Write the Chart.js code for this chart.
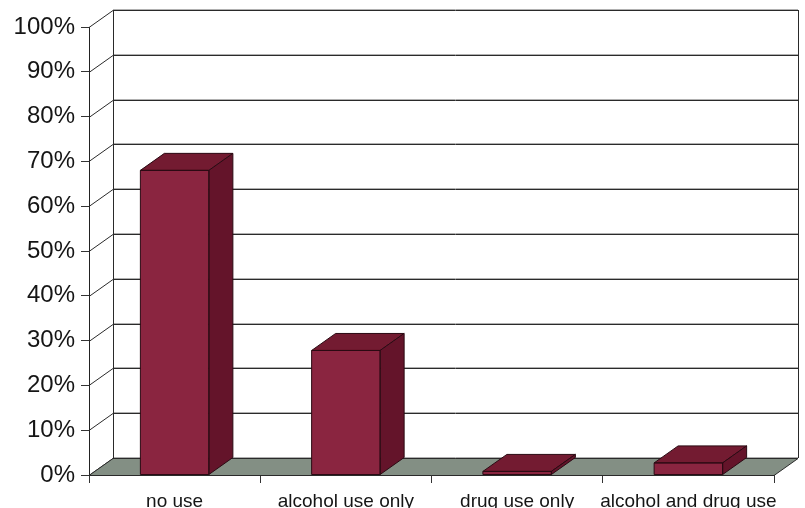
<!DOCTYPE html>
<html>
<head>
<meta charset="utf-8">
<script src="https://cdn.jsdelivr.net/npm/chart.js@4.4.0/dist/chart.umd.min.js"></script>
<style>
  body { margin: 0; background: #fff; }
  canvas { display: block; }
</style>
</head>
<body>
<canvas id="myChart" width="805" height="508"></canvas>
<script>
const categories = ['no use', 'alcohol use only', 'drug use only', 'alcohol and drug use'];
const shares = [68, 27.8, 0.8, 2.7];
const yTicks = [0, 10, 20, 30, 40, 50, 60, 70, 80, 90, 100];

// depth of the fake 3D box
const DX = 24;
const DY = -17;

const box3dPlugin = {
  id: 'box3d',
  beforeDatasetsDraw(chart) {
    const { ctx, chartArea: a } = chart;
    const y = chart.scales.y;
    ctx.save();
    ctx.lineWidth = 1;

    // grid on the back wall and lines on the left wall
    yTicks.forEach((v) => {
      const py = Math.round(y.getPixelForValue(v)) + 0.5;
      ctx.strokeStyle = '#b0b0b0';
      ctx.beginPath();
      ctx.moveTo(a.left + DX, py + DY - 1);
      ctx.lineTo(a.right + DX, py + DY - 1);
      ctx.stroke();
      ctx.strokeStyle = '#2a2a2a';
      ctx.beginPath();
      ctx.moveTo(a.left + DX, py + DY);
      ctx.lineTo(a.right + DX, py + DY);
      ctx.stroke();
      ctx.beginPath();
      ctx.moveTo(a.left, py);
      ctx.lineTo(a.left + DX, py + DY);
      ctx.stroke();
    });

    // back wall edges
    ctx.strokeStyle = '#2a2a2a';
    ctx.beginPath();
    ctx.moveTo(a.left + DX + 0.5, a.top + DY);
    ctx.lineTo(a.left + DX + 0.5, a.bottom + DY);
    ctx.moveTo(a.right + DX + 0.5, a.top + DY);
    ctx.lineTo(a.right + DX + 0.5, a.bottom + DY);
    ctx.stroke();

    // floor
    ctx.fillStyle = '#838f84';
    ctx.beginPath();
    ctx.moveTo(a.left, a.bottom + 0.5);
    ctx.lineTo(a.right, a.bottom + 0.5);
    ctx.lineTo(a.right + DX, a.bottom + DY + 0.5);
    ctx.lineTo(a.left + DX, a.bottom + DY + 0.5);
    ctx.closePath();
    ctx.fill();
    ctx.stroke();
    ctx.restore();
  },
  afterDatasetsDraw(chart) {
    const { ctx } = chart;
    const meta = chart.getDatasetMeta(0);
    ctx.save();
    ctx.lineWidth = 1;
    ctx.strokeStyle = '#2b0a13';
    ctx.lineJoin = 'round';
    meta.data.forEach((bar) => {
      const l = bar.x - bar.width / 2;
      const r = bar.x + bar.width / 2;
      const t = bar.y;
      const b = bar.base;

      // top face
      ctx.fillStyle = '#731b31';
      ctx.beginPath();
      ctx.moveTo(l, t);
      ctx.lineTo(l + DX, t + DY);
      ctx.lineTo(r + DX, t + DY);
      ctx.lineTo(r, t);
      ctx.closePath();
      ctx.fill();
      ctx.stroke();

      // side face
      ctx.fillStyle = '#64142a';
      ctx.beginPath();
      ctx.moveTo(r, t);
      ctx.lineTo(r + DX, t + DY);
      ctx.lineTo(r + DX, b + DY);
      ctx.lineTo(r, b);
      ctx.closePath();
      ctx.fill();
      ctx.stroke();

      // front face outline
      ctx.strokeRect(l, t, r - l, b - t);
    });
    ctx.restore();
  },
};

const config = {
  type: 'bar',
  data: {
    labels: categories,
    datasets: [
      {
        data: shares,
        backgroundColor: '#8a2540',
        borderWidth: 0,
        barPercentage: 0.4,
        categoryPercentage: 1,
      },
    ],
  },
  options: {
    responsive: false,
    animation: false,
    layout: {
      padding: { top: 27, right: 31, left: 0, bottom: 0 },
    },
    plugins: {
      legend: { display: false },
      tooltip: { enabled: false },
    },
    scales: {
      x: {
        afterFit: (s) => { s.height = 33; },
        grid: {
          offset: true,
          drawOnChartArea: false,
          tickLength: 8,
          color: '#333',
        },
        border: { display: true, color: '#222' },
        ticks: {
          padding: 7,
          color: '#151515',
          font: { family: 'Liberation Sans, Arial, sans-serif', size: 19 },
          maxRotation: 0,
          autoSkip: false,
        },
      },
      y: {
        min: 0,
        max: 100,
        afterFit: (s) => { s.width = 89; },
        grid: {
          drawOnChartArea: false,
          tickLength: 8,
          color: '#333',
        },
        border: { display: true, color: '#222' },
        ticks: {
          stepSize: 10,
          padding: 6,
          color: '#151515',
          font: { family: 'Liberation Sans, Arial, sans-serif', size: 24 },
          callback: (v) => v + '%',
        },
      },
    },
  },
  plugins: [box3dPlugin],
};

new Chart(document.getElementById('myChart').getContext('2d'), config);
</script>
</body>
</html>
